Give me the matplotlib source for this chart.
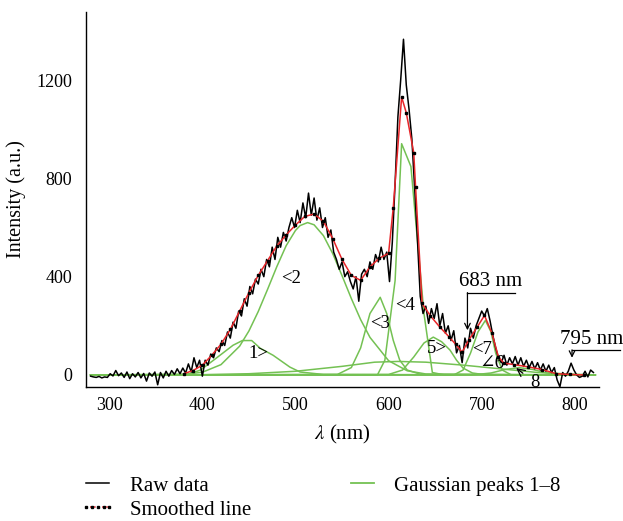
import numpy as np
import matplotlib
matplotlib.use("Agg")
import matplotlib.pyplot as plt
from matplotlib.lines import Line2D

plt.rcParams['font.family'] = ['Liberation Serif', 'DejaVu Serif']
plt.rcParams['mathtext.fontset'] = 'stix'

# ---------------- data ----------------
raw_x = np.arange(280, 823, 3)
raw_y = [
    -5, -8, -10, -6, -12, -8, -10, 5, -4, 18, -3, 8, -10, 12, -15, 5, -8, 10, -12, 6,
    -25, 8, -5, 12, -40, 10, -12, 15, -5, 18, 2, 25, 5,
    28, 8, 45, 12, 70, 30, 60, -5,
    60, 40, 85, 70, 110, 95, 140, 120, 175, 150,
    215, 190, 260, 240, 310, 280, 360, 330, 390, 370,
    430, 400, 470, 440, 520, 470, 560, 520, 580, 545,
    600, 640, 600, 670, 620, 700, 640, 740, 650, 720,
    630, 680, 600, 640, 560, 590, 500, 470, 430, 460,
    400, 420, 380, 350, 400, 300, 410, 430, 400, 460,
    430, 490, 460, 520, 470, 500, 380, 540, 780, 1050,
    1200, 1366, 1180, 1080, 960, 760, 550, 320, 250, 280,
    210, 270, 230, 290, 200, 250, 170, 200, 140, 180,
    90, 120, 50, 150, 110, 190, 150, 200, 230, 260,
    240, 270, 220, 160, 110, 70, 50, 80, 40, 70,
    45, 75, 40, 70, 35, 60, 30, 55, 25, 50,
    20, 45, 15, 40, 10, 30, -20, -48, 10, -5,
    15, 48, 20, 0, -10, -5, 15, -8, 20, 10,
]

smooth_x = [380, 390, 400, 410, 420, 430, 440, 450, 460, 470, 480, 490, 500, 510, 520,
            530, 540, 550, 560, 570, 580, 590, 600, 605, 614, 619, 627, 629, 636, 645,
            655, 665, 672, 679, 686, 695, 703, 711, 718, 724, 735, 750, 765, 780, 795, 810]
smooth_y = [5, 18, 40, 80, 125, 185, 260, 335, 405, 465, 525, 570, 610, 645, 655,
            625, 555, 470, 405, 385, 440, 475, 495, 680, 1131, 1067, 905, 764, 291, 240,
            195, 155, 125, 93, 141, 194, 242, 170, 73, 48, 42, 33, 22, 5, 2, 0]

peak1_x = [280, 385, 398, 412, 433, 443, 453, 462, 476, 494, 505, 530, 822]
peak1_y = [0, 3, 20, 60, 121, 140, 140, 109, 80, 32, 12, 2, 0]
peak2_x = [280, 380, 400, 420, 440, 450, 460, 470, 480, 490, 500, 505, 513, 520, 530,
           540, 550, 560, 570, 580, 600, 620, 640, 822]
peak2_y = [0, 2, 11, 42, 117, 179, 258, 348, 441, 526, 588, 608, 620, 611, 567,
           494, 404, 311, 225, 153, 58, 17, 4, 0]
peak3_x = [280, 545, 560, 570, 580, 591, 598, 605, 612, 620, 635, 822]
peak3_y = [0, 2, 30, 110, 250, 316, 250, 141, 60, 20, 2, 0]
peak4_x = [280, 588, 596, 607, 614, 624, 630, 638, 647, 660, 822]
peak4_y = [0, 0, 60, 384, 941, 848, 590, 250, 10, 0, 0]
peak5_x = [280, 600, 615, 627, 638, 648, 657, 666, 673, 680, 690, 705, 822]
peak5_y = [0, 2, 20, 73, 130, 154, 135, 101, 60, 28, 8, 0, 0]
peak6_x = [280, 400, 450, 500, 550, 585, 610, 640, 680, 720, 760, 800, 822]
peak6_y = [0, 1, 5, 15, 35, 52, 55, 52, 40, 25, 10, 3, 0]
peak7_x = [280, 670, 680, 688, 696, 704, 710, 715, 722, 732, 822]
peak7_y = [0, 0, 20, 89, 175, 222, 175, 89, 20, 0, 0]
peak8_x = [280, 690, 710, 725, 740, 755, 770, 790, 822]
peak8_y = [0, 0, 8, 22, 30, 22, 8, 0, 0]

peaks = [(peak1_x, peak1_y), (peak2_x, peak2_y), (peak3_x, peak3_y), (peak4_x, peak4_y),
         (peak5_x, peak5_y), (peak6_x, peak6_y), (peak7_x, peak7_y), (peak8_x, peak8_y)]

x_ticks = [300, 400, 500, 600, 700, 800]
y_ticks = [0, 400, 800, 1200]

# ---------------- figure ----------------
fig = plt.figure(figsize=(6.23, 5.21), dpi=100)
ax = fig.add_axes([0.138, 0.2572, 0.8235, 0.7198])

GREEN = '#74c153'
RED = '#e8262a'

for px, py in peaks:
    ax.plot(px, py, color=GREEN, lw=1.1, zorder=2)
ax.plot(raw_x, raw_y, color='black', lw=1.1, zorder=3)
ax.plot(smooth_x, smooth_y, color=RED, lw=1.1, zorder=4,
        marker='s', markersize=1.8, markerfacecolor='black', markeredgecolor='black')

ax.set_xlim(275, 826)
ax.set_ylim(-49, 1477)
ax.set_xticks(x_ticks)
ax.set_yticks(y_ticks)
ax.tick_params(length=0, labelsize=13)
ax.tick_params(axis='y', pad=10)
ax.tick_params(axis='x', pad=7)
for s in ['top', 'right']:
    ax.spines[s].set_visible(False)
for s in ['left', 'bottom']:
    ax.spines[s].set_linewidth(1.0)

ax.set_ylabel('Intensity (a.u.)', fontsize=14.5, labelpad=7)
ax.set_xlabel(r'$\mathit{\lambda}$ (nm)', fontsize=15, labelpad=7)

# peak labels
fs = 13.5
ax.text(460, 89, '1>', fontsize=fs, ha='center', va='center')
ax.text(495, 392, '<2', fontsize=fs, ha='center', va='center')
ax.text(591, 210, '<3', fontsize=fs, ha='center', va='center')
ax.text(618, 283, '<4', fontsize=fs, ha='center', va='center')
ax.text(652, 108, '5>', fontsize=fs, ha='center', va='center')
ax.text(700, 103, '<7', fontsize=fs, ha='center', va='center')
ax.text(711, 45, '∠6', fontsize=fs, ha='center', va='center')
ax.annotate('8', xy=(737, 28), xytext=(757, -30), fontsize=fs, ha='center', va='center',
            arrowprops=dict(arrowstyle='->', color='black', lw=0.9, shrinkA=4, shrinkB=0))

# wavelength annotations
ax.annotate('', xy=(684.7, 182), xytext=(684.7, 335),
            arrowprops=dict(arrowstyle='->', color='black', lw=0.9, shrinkA=0, shrinkB=0))
ax.plot([684.7, 736], [335, 335], color='black', lw=0.9)
ax.text(709, 380, '683 nm', fontsize=15, ha='center', va='center')

ax.annotate('', xy=(797, 70), xytext=(797, 102),
            arrowprops=dict(arrowstyle='->', color='black', lw=0.9, shrinkA=0, shrinkB=0),
            annotation_clip=False)
ax.plot([797, 849], [102, 102], color='black', lw=0.9, clip_on=False)
ax.text(818, 143, '795 nm', fontsize=15, ha='center', va='center', clip_on=False)

# legend
h_raw = Line2D([], [], color='black', lw=1.1)
h_smooth = Line2D([], [], color=RED, lw=1.1, ls=':', marker='s', markersize=1.8,
                  markerfacecolor='black', markeredgecolor='black')
h_gauss = Line2D([], [], color=GREEN, lw=1.3)
fig.legend([h_raw, h_smooth, h_gauss], ['Raw data', 'Smoothed line', 'Gaussian peaks 1–8'],
           ncol=2, loc='upper left', bbox_to_anchor=(0.112, 0.106), frameon=False,
           fontsize=15, handlelength=1.7, handletextpad=0.67, columnspacing=4.5,
           labelspacing=0.2, borderpad=0, numpoints=5)

fig.savefig('out.png', dpi=100)
